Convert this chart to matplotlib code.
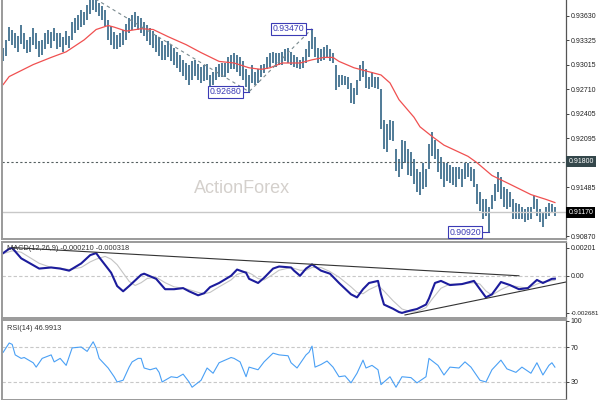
import matplotlib
matplotlib.use('Agg')
import matplotlib.pyplot as plt

# ---- price bars (bar index = position) ----
highs = [0.9323, 0.9333, 0.9349, 0.9346, 0.9342, 0.9338, 0.9352, 0.9341, 0.9333, 0.9336,
         0.9348, 0.9341, 0.9331, 0.9333, 0.9341, 0.9346, 0.9343, 0.9348, 0.9341, 0.9342,
         0.9336, 0.9344, 0.9338, 0.9356, 0.9361, 0.9364, 0.9371, 0.9368, 0.9377, 0.9383,
         0.9386, 0.9383, 0.9379, 0.9376, 0.9371, 0.9358, 0.9351, 0.9343, 0.9339, 0.9341,
         0.9346, 0.9353, 0.9361, 0.9364, 0.9368, 0.9363, 0.9361, 0.9356, 0.9352, 0.9348,
         0.9344, 0.9339, 0.9336, 0.9331, 0.9327, 0.9331, 0.9326, 0.9323, 0.9318, 0.9314,
         0.9308, 0.9304, 0.9301, 0.9306, 0.9308, 0.9303, 0.9299, 0.9302, 0.9303, 0.9289,
         0.9293, 0.9299, 0.9303, 0.9304, 0.9304, 0.9311, 0.9314, 0.9317, 0.9314, 0.9311,
         0.9306, 0.9296, 0.9289, 0.9302, 0.9293, 0.9296, 0.9302, 0.9303, 0.9311, 0.9317,
         0.9318, 0.9317, 0.9316, 0.9318, 0.9321, 0.9323, 0.9318, 0.9314, 0.9311, 0.9308,
         0.9312, 0.9321, 0.9331, 0.9347, 0.9336, 0.9323, 0.9321, 0.9324, 0.9327, 0.9321,
         0.9317, 0.9302, 0.9289, 0.9289, 0.9288, 0.9286, 0.9279, 0.9273, 0.9283, 0.9301,
         0.9306, 0.9296, 0.9287, 0.9293, 0.9287, 0.9287, 0.9271, 0.9233, 0.9227, 0.9233,
         0.9231, 0.9196, 0.9183, 0.9208, 0.9206, 0.9196, 0.9192, 0.9183, 0.9171, 0.9167,
         0.9179, 0.9171, 0.9202, 0.9217, 0.9208, 0.9196, 0.9186, 0.9179, 0.9179, 0.9176,
         0.9174, 0.9173, 0.9174, 0.9171, 0.9179, 0.9179, 0.9174, 0.9171, 0.9152, 0.9142,
         0.9133, 0.9133, 0.9124, 0.9139, 0.9152, 0.9167, 0.9161, 0.9149, 0.9146, 0.9142,
         0.9133, 0.9129, 0.9127, 0.9124, 0.9121, 0.9123, 0.9124, 0.9137, 0.9133, 0.9121,
         0.9117, 0.9124, 0.9129, 0.9127, 0.9123]
lows = [0.9306, 0.9313, 0.9331, 0.9326, 0.9323, 0.9318, 0.9328, 0.9321, 0.9316, 0.9318,
        0.9327, 0.9321, 0.9312, 0.9314, 0.9321, 0.9328, 0.9323, 0.9331, 0.9321, 0.9324,
        0.9318, 0.9327, 0.9323, 0.9333, 0.9341, 0.9346, 0.9349, 0.9352, 0.9358, 0.9366,
        0.9371, 0.9368, 0.9363, 0.9358, 0.9351, 0.9333, 0.9327, 0.9321, 0.9321, 0.9324,
        0.9327, 0.9333, 0.9341, 0.9346, 0.9349, 0.9346, 0.9342, 0.9338, 0.9331, 0.9327,
        0.9323, 0.9318, 0.9313, 0.9308, 0.9308, 0.9311, 0.9306, 0.9301, 0.9298, 0.9293,
        0.9288, 0.9283, 0.9276, 0.9283, 0.9288, 0.9283, 0.9279, 0.9281, 0.9283, 0.9274,
        0.9277, 0.9283, 0.9286, 0.9287, 0.9287, 0.9292, 0.9296, 0.9296, 0.9293, 0.9288,
        0.9283, 0.9274, 0.9268, 0.9279, 0.9277, 0.9279, 0.9286, 0.9291, 0.9296, 0.9299,
        0.9304, 0.9299, 0.9301, 0.9302, 0.9306, 0.9304, 0.9302, 0.9299, 0.9298, 0.9296,
        0.9298, 0.9304, 0.9312, 0.9321, 0.9311, 0.9304, 0.9306, 0.9308, 0.9311, 0.9307,
        0.9304, 0.9270, 0.9274, 0.9277, 0.9276, 0.9271, 0.9254, 0.9253, 0.9264, 0.9281,
        0.9286, 0.9273, 0.9271, 0.9274, 0.9273, 0.9271, 0.9221, 0.9196, 0.9192, 0.9208,
        0.9206, 0.9168, 0.9161, 0.9171, 0.9179, 0.9164, 0.9162, 0.9152, 0.9142, 0.9139,
        0.9146, 0.9149, 0.9171, 0.9187, 0.9183, 0.9167, 0.9158, 0.9148, 0.9156, 0.9154,
        0.9151, 0.9149, 0.9158, 0.9149, 0.9158, 0.9161, 0.9156, 0.9149, 0.9127, 0.9118,
        0.9108, 0.9112, 0.9092, 0.9121, 0.9131, 0.9142, 0.9133, 0.9124, 0.9121, 0.9123,
        0.9108, 0.9108, 0.9108, 0.9108, 0.9104, 0.9107, 0.9108, 0.9121, 0.9112, 0.9104,
        0.9098, 0.9108, 0.9112, 0.9117, 0.9112]

# moving average (red)
ma_idx = [0, 2, 10, 16, 21, 27, 31, 35, 37, 41, 46, 50, 55, 61, 66, 72, 77, 82, 86, 89, 93,
          99, 103, 107, 110, 112, 117, 121, 126, 129, 132, 137, 139, 143, 147, 155, 158, 163,
          169, 176, 181, 184]
ma_val = [0.9277, 0.9287, 0.9302, 0.9311, 0.9318, 0.9333, 0.9346, 0.9351, 0.9349, 0.9344,
          0.9347, 0.9346, 0.9337, 0.9327, 0.9317, 0.9306, 0.9304, 0.9298, 0.9296, 0.9298,
          0.9304, 0.9304, 0.9308, 0.9311, 0.9311, 0.9306, 0.9298, 0.9294, 0.9289, 0.9279,
          0.9258, 0.9236, 0.9224, 0.9212, 0.9201, 0.9187, 0.9179, 0.9163, 0.9152, 0.9139,
          0.9133, 0.9129]

# MACD
macd_idx = [0, 2, 3, 6, 9, 12, 16, 19, 22, 26, 29, 31, 32, 36, 38, 40, 42, 46, 47, 51, 54,
            57, 60, 62, 65, 67, 69, 72, 76, 78, 81, 82, 85, 87, 90, 92, 96, 97, 99, 101, 103,
            106, 109, 112, 116, 118, 120, 122, 125, 126, 127, 130, 132, 133, 136, 138, 141,
            142, 144, 146, 149, 153, 157, 159, 161, 163, 166, 169, 172, 175, 178, 180, 183, 184]
macd_val = [0.00164, 0.00195, 0.00201, 0.00126, 0.00089, 0.00052, 0.00060, 0.00052, 0.00037,
            0.00089, 0.00149, 0.00164, 0.00134, 0.00022, -0.00074, -0.00112, -0.00074,
            0.00007, 0.00015, -0.00022, -0.00097, -0.00097, -0.00089, -0.00112, -0.00141,
            -0.00126, -0.00082, -0.00052, 0.0, 0.00045, 0.00022, -0.00022, -0.00052,
            -0.00015, 0.00052, 0.00067, 0.00060, 0.00037, 0.0, 0.00052, 0.00082, 0.00037,
            0.00015, -0.00052, -0.00134, -0.00156, -0.00097, -0.00052, -0.00037, -0.00134,
            -0.00208, -0.00238, -0.00262, -0.002681, -0.00250, -0.00240, -0.00208, -0.00164,
            -0.00052, -0.00037, -0.00067, -0.00060, -0.00037, -0.00097, -0.00156, -0.00134,
            -0.00045, -0.00067, -0.00097, -0.00089, -0.00030, -0.00052, -0.00022, -0.00021]
sig_idx = [0, 3, 6, 9, 12, 16, 19, 22, 26, 29, 31, 34, 36, 38, 40, 42, 44, 46, 48, 51, 54, 57,
           60, 62, 65, 67, 69, 72, 76, 78, 81, 83, 85, 87, 90, 92, 96, 99, 101, 103, 106, 109,
           112, 116, 118, 120, 122, 125, 127, 130, 133, 136, 138, 141, 143, 146, 149, 153,
           157, 159, 161, 163, 166, 169, 172, 175, 178, 180, 183, 184]
sig_val = [0.0016, 0.0018, 0.0017, 0.0013, 0.0009, 0.0006, 0.00055, 0.00045, 0.0006, 0.0010,
           0.0012, 0.0014, 0.0012, 0.0008, 0.0002, -0.0004, -0.0007, -0.0005, -0.0002,
           -0.0001, -0.0005, -0.0008, -0.0009, -0.0010, -0.0012, -0.0013, -0.0012, -0.0008,
           -0.0003, 0.0001, 0.0003, 0.0001, -0.0002, -0.0003, 0.0001, 0.0004, 0.0006, 0.0004,
           0.0004, 0.0006, 0.0006, 0.0003, -0.0001, -0.0008, -0.0012, -0.0013, -0.0010,
           -0.0007, -0.0011, -0.0018, -0.0024, -0.0026, -0.0026, -0.0023, -0.0017, -0.0009,
           -0.0006, -0.0006, -0.0005, -0.0006, -0.0011, -0.0014, -0.0010, -0.0007, -0.0008,
           -0.0009, -0.0006, -0.00045, -0.00035, -0.000318]

# RSI(14)
rsi_idx = [0, 2, 3, 4, 6, 7, 10, 11, 13, 16, 17, 19, 21, 23, 26, 28, 30, 31, 32, 35, 37, 38,
           40, 42, 43, 45, 46, 47, 49, 51, 52, 53, 56, 58, 60, 62, 63, 66, 68, 70, 72, 76, 77,
           79, 81, 82, 85, 87, 90, 92, 95, 96, 98, 101, 102, 103, 104, 106, 108, 110, 112,
           114, 116, 118, 120, 121, 123, 125, 126, 129, 131, 133, 136, 138, 141, 142, 145,
           147, 149, 152, 154, 156, 159, 161, 163, 166, 168, 171, 173, 176, 178, 180, 182,
           183, 184]
rsi_val = [64, 74.6, 73, 61, 57, 58, 52, 47, 57, 61, 53, 57, 49, 69, 70, 65, 76, 69, 57, 46,
           36, 30, 32, 47, 53, 57, 57, 46, 44, 46, 41, 30, 36, 35, 39, 30, 24, 32, 46, 40, 52,
           58, 57, 53, 36, 47, 44, 53, 63, 61, 60, 52, 46, 61, 64, 71, 47, 50, 54, 47, 36, 37,
           29, 40, 55, 46, 49, 44, 27, 36, 24, 36, 35, 29, 36, 57, 49, 38, 47, 46, 53, 47, 32,
           30, 44, 55, 45, 41, 47, 40, 52, 38, 49, 52, 46.9913]

price_ticks = [0.93630, 0.93325, 0.93015, 0.92710, 0.92405, 0.92095, 0.91485, 0.90870]
hline_level = 0.91800
last_price = 0.91170
marks = [(103, 0.93470), (82, 0.92680), (162, 0.90920)]

W, H = 600, 400
fig = plt.figure(figsize=(6, 4), dpi=100)
L, R = 2 / W, 566 / W
FONT = 'Liberation Sans'

def panel(top, bot):
    return fig.add_axes([L, 1 - bot / H, R - L, (bot - top) / H])

ax1 = panel(0, 239)
ax2 = panel(242, 318)
ax3 = panel(320, 400)

for ax in (ax1, ax2, ax3):
    ax.set_xlim(-0.4, 187.7)
    ax.set_xticks([])
    ax.yaxis.tick_right()
    ax.tick_params(axis='y', length=2, width=0.6, pad=1.5, labelsize=5.0, colors='#222222')
    for s in ('left', 'top', 'bottom'):
        ax.spines[s].set_color('#9a9a9a')
        ax.spines[s].set_linewidth(1.4)
    ax.spines['right'].set_color('#555555')
    ax.spines['right'].set_linewidth(0.9)
ax1.spines['top'].set_visible(False)

# main price panel
ax1.set_ylim(0.90833, 0.93830)
ax1.vlines(range(len(highs)), lows, highs, color='#507b97', lw=1.4)
ax1.plot(ma_idx, ma_val, color='#f05050', lw=0.9)
ax1.axhline(hline_level, color='#555f60', lw=0.8, ls=(0, (2, 2)))
ax1.axhline(last_price, color='#c8c8c8', lw=1.0)
ax1.set_yticks(price_ticks)
ax1.set_yticklabels(['%.5f' % v for v in price_ticks], family=FONT)

# dashed swing lines
ax1.plot([30, 82, 103], [highs[30], lows[82], highs[103]], color='#7a8a8f', lw=0.8,
         ls=(0, (3, 3)))

for i, v in marks:
    xr = i - 2.2
    ax1.plot([xr, i], [v, v], color='#3b3bb5', lw=0.8, clip_on=False)
    ax1.text(xr - 0.4, v, '%.5f' % v, ha='right', va='center', fontsize=6.3, color='#3b3bb5',
             family=FONT, clip_on=False,
             bbox=dict(boxstyle='square,pad=0.15', fc='white', ec='#3b3bb5', lw=0.8))

ytr = ax1.get_yaxis_transform()
ax1.text(1.004, hline_level, '%.5f' % hline_level, transform=ytr, ha='left', va='center',
         fontsize=5.0, color='white', family=FONT,
         bbox=dict(boxstyle='square,pad=0.3', fc='#34474b', ec='none'))
ax1.text(1.004, last_price, '%.5f' % last_price, transform=ytr, ha='left', va='center',
         fontsize=5.0, color='white', family=FONT,
         bbox=dict(boxstyle='square,pad=0.3', fc='black', ec='none'))

fig.text(242 / W, 1 - 189 / H, 'ActionForex', ha='center', va='center', fontsize=13,
         color='#d4d0cc', family=FONT)

# MACD panel
ax2.set_ylim(-0.00305, 0.00244)
ax2.axhline(0, color='#c8c8c8', lw=0.8, ls=(0, (3, 2)))
ax2.plot(sig_idx, sig_val, color='#c4c4c4', lw=0.8)
ax2.plot(macd_idx, macd_val, color='#1c1c9c', lw=1.5)
ax2.plot([3, 172], [0.00204, 0.0], color='#333333', lw=0.8)
ax2.plot([134, 187.7], [-0.00283, -0.00045], color='#333333', lw=0.8)
ax2.set_yticks([0.00201, 0.0, -0.002681])
ax2.set_yticklabels(['0.00201', '0.00', '-0.002681'], family=FONT)
ax2.get_yticklabels()[2].set_fontsize(4.5)
ax2.text(0.008, 0.92, 'MACD(12,26,9) -0.000210 -0.000318', transform=ax2.transAxes,
         fontsize=5.3, color='#333333', va='center', family=FONT)

# RSI panel
ax3.set_ylim(9.4, 100.9)
ax3.axhline(70, color='#c8c8c8', lw=0.8, ls=(0, (3, 2)))
ax3.axhline(30, color='#c8c8c8', lw=0.8, ls=(0, (3, 2)))
ax3.plot(rsi_idx, rsi_val, color='#4aa0f5', lw=0.8)
ax3.set_yticks([100, 70, 30])
ax3.set_yticklabels(['100', '70', '30'], family=FONT)
ax3.text(0.008, 0.9, 'RSI(14) 46.9913', transform=ax3.transAxes, fontsize=5.3,
         color='#333333', va='center', family=FONT)

fig.savefig('out.png', dpi=100)
